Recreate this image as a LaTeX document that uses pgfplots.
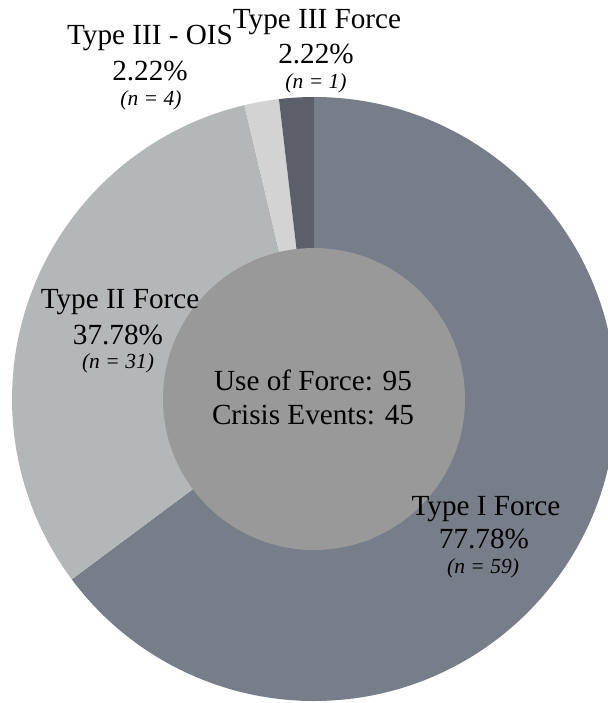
\documentclass[border=0pt]{standalone}
\usepackage{pgfplots}
\usepackage{pgfplotstable}
\pgfplotsset{compat=1.18}
\usepackage{fontspec}
\setmainfont{Liberation Serif}
\definecolor{cI}{HTML}{777D89}
\definecolor{cII}{HTML}{B3B7B8}
\definecolor{cOIS}{HTML}{D3D3D3}
\definecolor{cIII}{HTML}{5B5F69}
\definecolor{cIn}{HTML}{999999}
\newcommand\lab{\fontsize{29.2bp}{34bp}\selectfont}
\newcommand\nn{\fontsize{21.5bp}{24bp}\selectfont\itshape}
\pgfplotstableread{
label value n
TypeI 77.78 59
TypeII 37.78 31
OIS 2.22 4
TypeIII 2.22 1
}\piedata
\begin{document}%
\begin{tikzpicture}
\pgfplotstablegetelem{0}{value}\of\piedata \let\vA\pgfplotsretval
\pgfplotstablegetelem{1}{value}\of\piedata \let\vB\pgfplotsretval
\pgfplotstablegetelem{2}{value}\of\piedata \let\vC\pgfplotsretval
\pgfplotstablegetelem{3}{value}\of\piedata \let\vD\pgfplotsretval
\pgfmathsetmacro{\tot}{\vA+\vB+\vC+\vD}
\pgfmathsetmacro{\aA}{90}
\pgfmathsetmacro{\aB}{\aA-\vA/\tot*360}
\pgfmathsetmacro{\aC}{\aB-\vB/\tot*360}
\pgfmathsetmacro{\aD}{\aC-\vC/\tot*360}
\pgfmathsetmacro{\aE}{\aD-\vD/\tot*360}
\useasboundingbox (0,0) rectangle (608bp,703bp);
\clip (0,0) rectangle (608bp,703bp);
\begin{axis}[at={(0,0)}, anchor=south west, width=608bp, height=703bp, scale only axis,
  xmin=0, xmax=608, ymin=0, ymax=703, y dir=reverse, hide axis, clip=true]
\fill[cI] (axis cs:314,399) -- ++(\aA:302bp) arc[start angle=\aA, end angle=\aB, radius=302bp] -- cycle;
\fill[cII] (axis cs:314,399) -- ++(\aB:302bp) arc[start angle=\aB, end angle=\aC, radius=302bp] -- cycle;
\fill[cOIS] (axis cs:314,399) -- ++(\aC:302bp) arc[start angle=\aC, end angle=\aD, radius=302bp] -- cycle;
\fill[cIII] (axis cs:314,399) -- ++(\aD:302bp) arc[start angle=\aD, end angle=\aE, radius=302bp] -- cycle;
\fill[cIn] (axis cs:314,399) circle[radius=151bp];
% labels
\node[anchor=base, inner sep=0] at (axis cs:150,45) {\lab Type III - OIS};
\node[anchor=base, inner sep=0] at (axis cs:150,81) {\lab 2.22\%};
\node[anchor=base, inner sep=0] at (axis cs:151,106) {\nn (n = 4)};
\node[anchor=base, inner sep=0] at (axis cs:317,29) {\lab Type III Force};
\node[anchor=base, inner sep=0] at (axis cs:316,64) {\lab 2.22\%};
\node[anchor=base, inner sep=0] at (axis cs:316,89) {\nn (n = 1)};
\node[anchor=base, inner sep=0] at (axis cs:120,308) {\lab Type II Force};
\node[anchor=base, inner sep=0] at (axis cs:118,344) {\lab 37.78\%};
\node[anchor=base, inner sep=0] at (axis cs:118,368) {\nn (n = 31)};
\node[anchor=base, inner sep=0] at (axis cs:313,390) {\lab Use of Force: 95};
\node[anchor=base, inner sep=0] at (axis cs:313,424) {\lab Crisis Events: 45};
\node[anchor=base, inner sep=0] at (axis cs:486,515) {\lab Type I Force};
\node[anchor=base, inner sep=0] at (axis cs:484,548) {\lab 77.78\%};
\node[anchor=base, inner sep=0] at (axis cs:483,573) {\nn (n = 59)};
\end{axis}
\end{tikzpicture}%
\end{document}
